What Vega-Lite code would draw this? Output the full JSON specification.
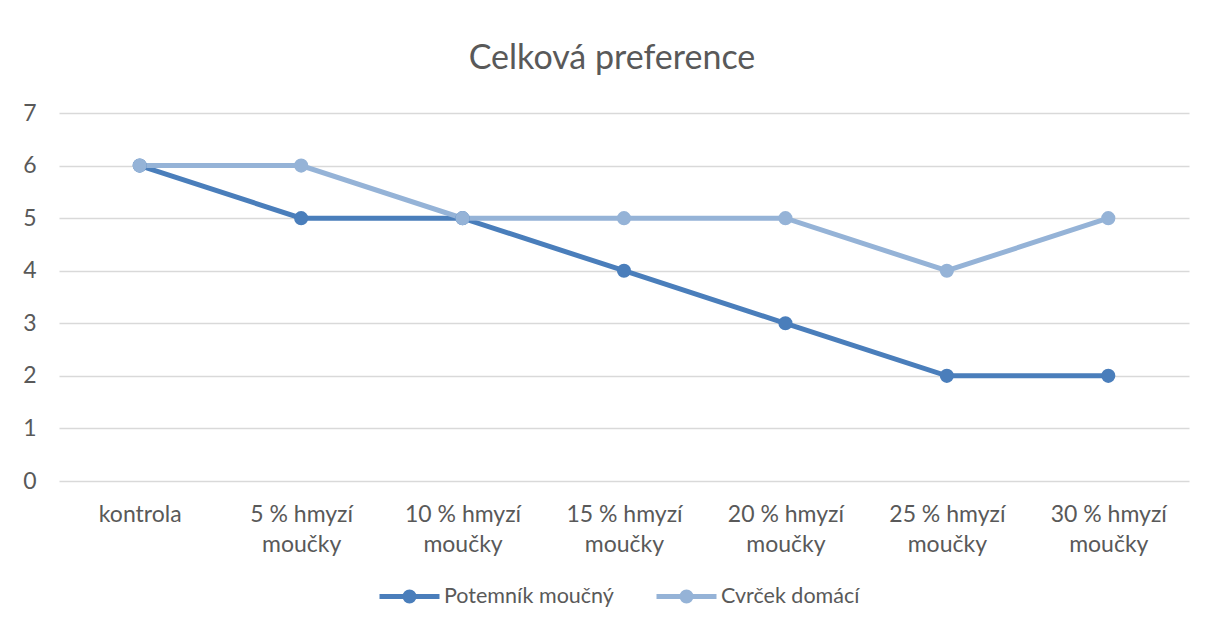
{
  "$schema": "https://vega.github.io/schema/vega-lite/v6.json",
  "autosize": {"type": "none"},
  "width": 1130,
  "height": 368,
  "padding": {"left": 59, "top": 113, "right": 20, "bottom": 145},
  "background": "white",
  "title": {"text": "Celková preference", "anchor": "middle", "frame": "group", "dx": -12, "offset": 26, "font": "Lato", "fontSize": 34, "fontWeight": "normal", "color": "#595959"},
  "config": {"view": {"stroke": null}, "font": "Lato"},
  "data": {"values": [
    {"kat": "kontrola", "druh": "Potemník moučný", "hodnota": 6},
    {"kat": "5 % hmyzí moučky", "druh": "Potemník moučný", "hodnota": 5},
    {"kat": "10 % hmyzí moučky", "druh": "Potemník moučný", "hodnota": 5},
    {"kat": "15 % hmyzí moučky", "druh": "Potemník moučný", "hodnota": 4},
    {"kat": "20 % hmyzí moučky", "druh": "Potemník moučný", "hodnota": 3},
    {"kat": "25 % hmyzí moučky", "druh": "Potemník moučný", "hodnota": 2},
    {"kat": "30 % hmyzí moučky", "druh": "Potemník moučný", "hodnota": 2},
    {"kat": "kontrola", "druh": "Cvrček domácí", "hodnota": 6},
    {"kat": "5 % hmyzí moučky", "druh": "Cvrček domácí", "hodnota": 6},
    {"kat": "10 % hmyzí moučky", "druh": "Cvrček domácí", "hodnota": 5},
    {"kat": "15 % hmyzí moučky", "druh": "Cvrček domácí", "hodnota": 5},
    {"kat": "20 % hmyzí moučky", "druh": "Cvrček domácí", "hodnota": 5},
    {"kat": "25 % hmyzí moučky", "druh": "Cvrček domácí", "hodnota": 4},
    {"kat": "30 % hmyzí moučky", "druh": "Cvrček domácí", "hodnota": 5}
  ]},
  "encoding": {
    "x": {"field": "kat", "type": "nominal", "sort": null,
      "scale": {"type": "point", "padding": 0.5},
      "axis": {"title": null, "domain": false, "ticks": false, "grid": false, "labelAngle": 0,
        "labelFont": "Lato", "labelFontSize": 23, "labelColor": "#595959", "labelPadding": 22, "labelLineHeight": 30,
        "labelExpr": "indexof(datum.value, ' moučky') > 0 ? [replace(datum.value, ' moučky', ''), 'moučky'] : datum.value"}},
    "y": {"field": "hodnota", "type": "quantitative",
      "scale": {"domain": [0, 7], "nice": false},
      "axis": {"title": null, "domain": false, "ticks": false, "values": [0, 1, 2, 3, 4, 5, 6, 7],
        "gridColor": "#D9D9D9", "gridWidth": 1.5, "labelFont": "Lato", "labelFontSize": 23, "labelColor": "#595959", "labelPadding": 23}},
    "color": {"field": "druh", "type": "nominal",
      "scale": {"domain": ["Potemník moučný", "Cvrček domácí"], "range": ["#4A7EBB", "#95B3D7"]},
      "legend": {"title": null, "orient": "none", "direction": "horizontal", "legendX": 318, "legendY": 451,
        "symbolType": "M-1,0 H1 M0.15,0 A0.15,0.15 0 1,1 -0.15,0 A0.15,0.15 0 1,1 0.15,0",
        "symbolSize": 3600, "symbolStrokeWidth": 5, "labelOffset": 2, "columnPadding": 32, "labelLimit": 400,
        "labelFont": "Lato", "labelFontSize": 21.5, "labelColor": "#595959",
        "encode": {"symbols": {"update": {"fill": {"scale": "color", "field": "value"}, "stroke": {"scale": "color", "field": "value"}}}}}}
  },
  "layer": [
    {"mark": {"type": "line", "strokeWidth": 5}},
    {"mark": {"type": "point", "filled": true, "size": 200, "opacity": 1}}
  ]
}
